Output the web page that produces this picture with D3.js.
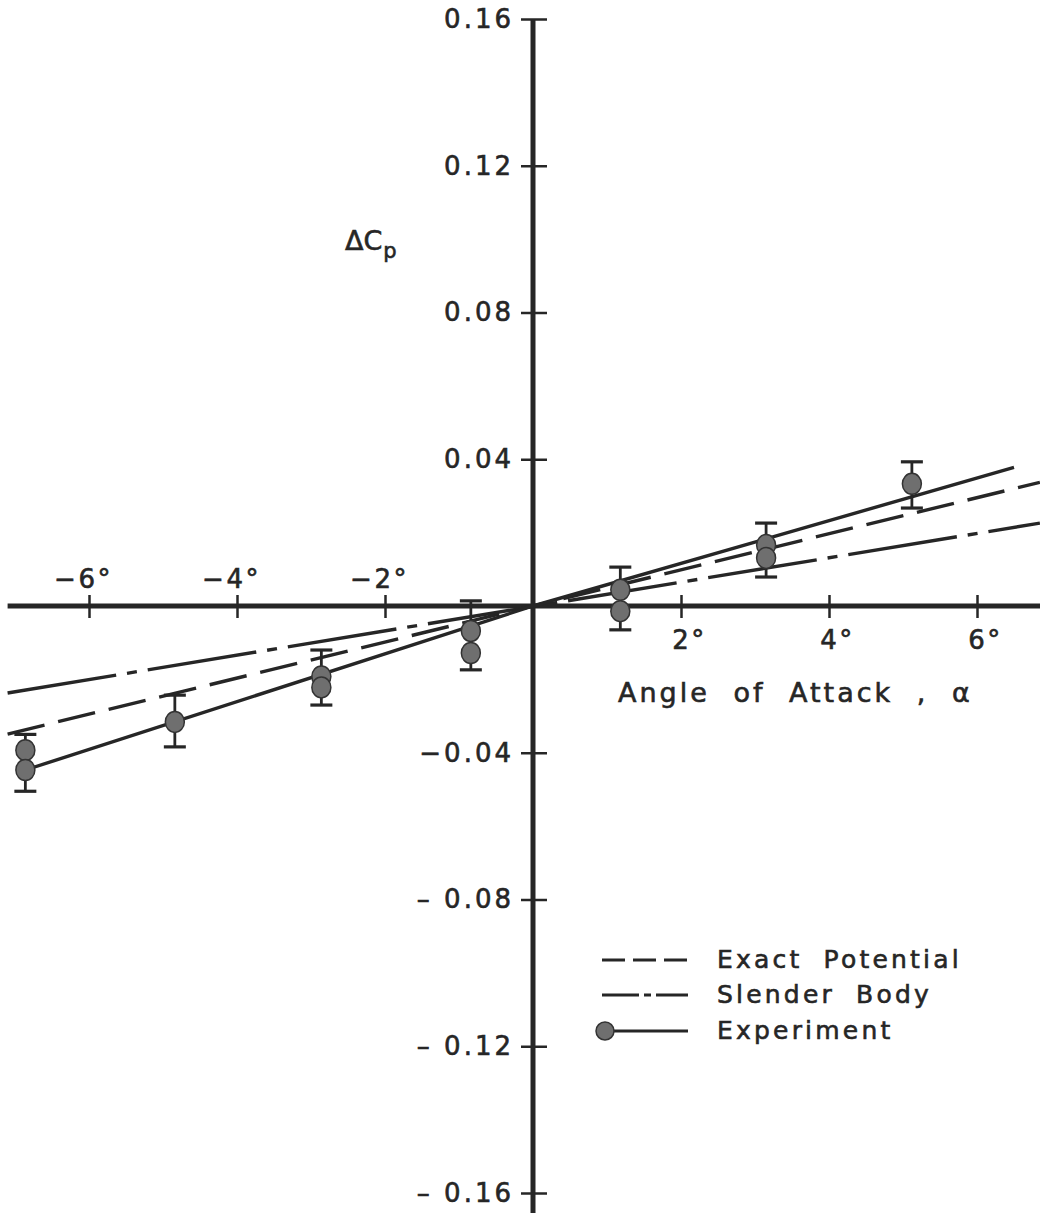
<!DOCTYPE html>
<html>
<head>
<meta charset="utf-8">
<script src="https://cdn.jsdelivr.net/npm/d3@7"></script>
<style>
  body { margin: 0; background: #fff; }
  svg { display: block; }
  text { font-family: "DejaVu Sans", sans-serif; fill: #262626; stroke: #262626; stroke-width: 0.6px; }
</style>
</head>
<body>
<div id="chart"></div>
<script>
// values
const xTicks = [-6, -4, -2, 2, 4, 6];
const xTickLabels = ['\u22126°', '\u22124°', '\u22122°', '2°', '4°', '6°'];
const yTicks = [0.16, 0.12, 0.08, 0.04, -0.04, -0.08, -0.12, -0.16];
const yTickLabels = ['0.16', '0.12', '0.08', '0.04', '\u22120.04', '\u2013 0.08', '\u2013 0.12', '\u2013 0.16'];

// experiment points (two readings at most angles)
const expAlpha = [-6.86, -6.86, -4.84, -2.86, -2.86, -0.84, -0.84, 1.18, 1.18, 3.15, 3.15, 5.12];
const expDcp = [-0.0393, -0.0447, -0.0316, -0.0192, -0.0222, -0.0068, -0.0128, 0.0044, -0.0014, 0.0166, 0.0131, 0.0333];

// error bars
const errAlpha = [-6.86, -4.84, -2.86, -0.84, 1.18, 3.15, 5.12];
const errHigh = [-0.0350, -0.0243, -0.0120, 0.0014, 0.0106, 0.0226, 0.0393];
const errLow = [-0.0505, -0.0384, -0.0270, -0.0174, -0.0065, 0.0079, 0.0267];

// theory and fitted lines
const exactAlpha = [-7.1, 6.85];
const exactDcp = [-0.0349, 0.0337];
const slenderAlpha = [-7.1, 6.85];
const slenderDcp = [-0.0237, 0.0226];
const fitAlpha = [-6.86, 0, 6.5];
const fitDcp = [-0.0447, 0, 0.0378];

const legendLabels = ['Exact Potential', 'Slender Body', 'Experiment'];

const width = 1040, height = 1222;
const ink = '#262626';

const svg = d3.select('#chart').append('svg')
  .attr('width', width)
  .attr('height', height);

const x = d3.scaleLinear().domain([-6, 6]).range([89, 977]);
const y = d3.scaleLinear().domain([-0.16, 0.16]).range([1193, 19]);

const line = d3.line().x(d => x(d[0])).y(d => y(d[1]));

// main axis lines
svg.append('line')
  .attr('x1', x(-7.1)).attr('x2', width)
  .attr('y1', y(0)).attr('y2', y(0))
  .attr('stroke', ink).attr('stroke-width', 5);

svg.append('line')
  .attr('x1', x(0)).attr('x2', x(0))
  .attr('y1', y(0.16)).attr('y2', y(-0.16) + 20)
  .attr('stroke', ink).attr('stroke-width', 5);

// x axis ticks and labels
const xAxis = svg.append('g')
  .attr('transform', `translate(0,${y(0)})`)
  .call(d3.axisBottom(x)
    .tickValues(xTicks)
    .tickFormat((d, i) => xTickLabels[i])
    .tickSize(0));
xAxis.select('.domain').remove();
xAxis.selectAll('.tick line')
  .attr('y1', -11).attr('y2', 12)
  .attr('stroke', ink).attr('stroke-width', 2.5);
xAxis.selectAll('.tick text')
  .attr('fill', ink)
  .style('font-size', '26px')
  .style('letter-spacing', '2.5px')
  .attr('y', d => d < 0 ? -18 : 43)
  .attr('dy', 0)
  .attr('dx', d => d < 0 ? -6 : 8);

// y axis ticks and labels
const yAxis = svg.append('g')
  .attr('transform', `translate(${x(0)},0)`)
  .call(d3.axisLeft(y)
    .tickValues(yTicks)
    .tickFormat((d, i) => yTickLabels[i])
    .tickSize(0)
    .tickPadding(19));
yAxis.select('.domain').remove();
yAxis.selectAll('.tick line')
  .attr('x1', -12).attr('x2', 14)
  .attr('stroke', ink).attr('stroke-width', 2.5);
yAxis.selectAll('.tick text')
  .attr('fill', ink)
  .style('font-size', '26px')
  .style('letter-spacing', '3px');

// axis titles
const dcp = svg.append('text')
  .attr('x', 345).attr('y', 250)
  .style('font-size', '27px');
dcp.append('tspan').text('\u0394C');
dcp.append('tspan').attr('dy', 8).attr('dx', 1).style('font-size', '21px').text('p');

svg.append('text')
  .attr('x', 618).attr('y', 702)
  .style('font-size', '27px')
  .style('letter-spacing', '3px')
  .style('word-spacing', '12px')
  .text('Angle of Attack , \u03b1');

// curves
svg.append('path')
  .datum(d3.zip(exactAlpha, exactDcp))
  .attr('d', line)
  .attr('fill', 'none').attr('stroke', ink).attr('stroke-width', 3.4)
  .attr('stroke-dasharray', '38,14');

svg.append('path')
  .datum(d3.zip(slenderAlpha, slenderDcp))
  .attr('d', line)
  .attr('fill', 'none').attr('stroke', ink).attr('stroke-width', 3.4)
  .attr('stroke-dasharray', '110,11,10,11');

svg.append('path')
  .datum(d3.zip(fitAlpha, fitDcp))
  .attr('d', line)
  .attr('fill', 'none').attr('stroke', ink).attr('stroke-width', 3.4);

// error bars
const bars = svg.append('g').attr('stroke', ink);
const errData = d3.zip(errAlpha, errLow, errHigh);
bars.selectAll('.stem').data(errData).join('line')
  .attr('x1', d => x(d[0])).attr('x2', d => x(d[0]))
  .attr('y1', d => y(d[1])).attr('y2', d => y(d[2]))
  .attr('stroke-width', 2.8);
bars.selectAll('.cap-hi').data(errData).join('line')
  .attr('x1', d => x(d[0]) - 11).attr('x2', d => x(d[0]) + 11)
  .attr('y1', d => y(d[2])).attr('y2', d => y(d[2]))
  .attr('stroke-width', 3.2);
bars.selectAll('.cap-lo').data(errData).join('line')
  .attr('x1', d => x(d[0]) - 11).attr('x2', d => x(d[0]) + 11)
  .attr('y1', d => y(d[1])).attr('y2', d => y(d[1]))
  .attr('stroke-width', 3.2);

// experiment points
svg.append('g').selectAll('ellipse')
  .data(d3.zip(expAlpha, expDcp))
  .join('ellipse')
  .attr('cx', d => x(d[0]))
  .attr('cy', d => y(d[1]))
  .attr('rx', 9.5)
  .attr('ry', 10.5)
  .attr('fill', '#6f6f6f')
  .attr('stroke', '#333')
  .attr('stroke-width', 1.5);

// legend
const legendY = [960, 995, 1031];
const lg = svg.append('g');
lg.append('line')
  .attr('x1', 602).attr('x2', 688).attr('y1', legendY[0]).attr('y2', legendY[0])
  .attr('stroke', ink).attr('stroke-width', 2.8).attr('stroke-dasharray', '23,8');
lg.append('line')
  .attr('x1', 602).attr('x2', 688).attr('y1', legendY[1]).attr('y2', legendY[1])
  .attr('stroke', ink).attr('stroke-width', 2.8).attr('stroke-dasharray', '37,5,7,5');
lg.append('line')
  .attr('x1', 612).attr('x2', 688).attr('y1', legendY[2]).attr('y2', legendY[2])
  .attr('stroke', ink).attr('stroke-width', 2.8);
lg.append('circle')
  .attr('cx', 605).attr('cy', legendY[2]).attr('r', 9)
  .attr('fill', '#6f6f6f').attr('stroke', '#333').attr('stroke-width', 1.5);
lg.selectAll('text').data(legendLabels).join('text')
  .attr('x', 717)
  .attr('y', (d, i) => legendY[i] + 8)
  .style('font-size', '25px')
  .style('letter-spacing', '3.2px')
  .style('word-spacing', '10px')
  .text(d => d);
</script>
</body>
</html>
